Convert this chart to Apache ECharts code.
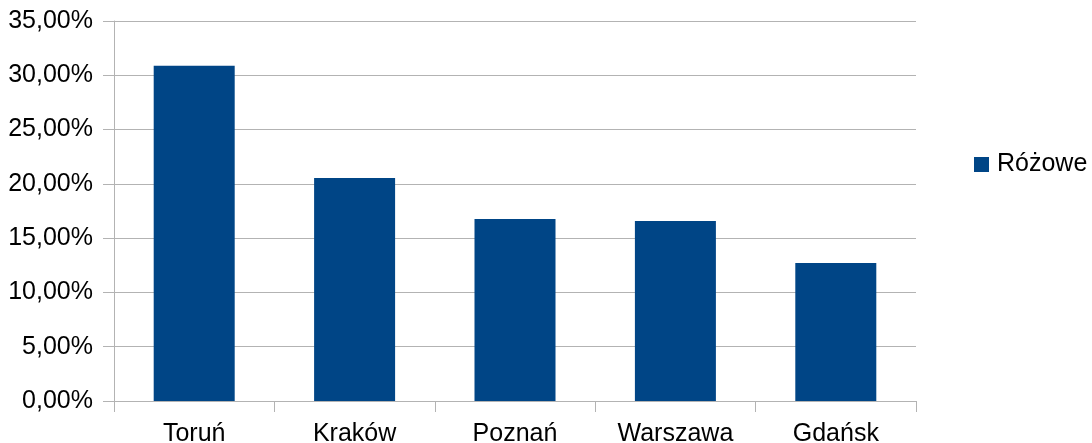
<!DOCTYPE html>
<html>
<head>
    <meta charset="utf-8"/>
    <title>Różowe</title>
    <style>
        html, body { margin: 0; padding: 0; background: #fff; }
        #chart { width: 1092px; height: 443px; }
    </style>
</head>
<body>
<div id="chart"></div>
<script src="https://cdn.jsdelivr.net/npm/echarts@6/dist/echarts.min.js"></script>
<script>
    // dane
    var cities = ['Toruń', 'Kraków', 'Poznań', 'Warszawa', 'Gdańsk'];
    var rozowe = [30.88, 20.54, 16.76, 16.58, 12.71];
    var seriesName = 'Różowe';

    var gridColor = '#b3b3b3';
    var barColor = '#004586';
    var fontSize = 25;

    var chart = echarts.init(document.getElementById('chart'));
    var option = {
        animation: false,
        textStyle: { fontFamily: 'Liberation Sans' },
        grid: { left: 114, right: 176, top: 21, bottom: 42, containLabel: false, outerBoundsMode: 'none' },
        legend: {
            data: [seriesName],
            orient: 'vertical',
            left: 974,
            top: 152,
            padding: 0,
            itemWidth: 15,
            itemHeight: 15,
            itemGap: 6,
            icon: 'rect',
            textStyle: { fontSize: fontSize, color: '#000', fontFamily: 'Liberation Sans', padding: [0, 0, 0, 3] }
        },
        xAxis: {
            type: 'category',
            data: cities,
            axisLine: { lineStyle: { color: gridColor, width: 1 } },
            axisTick: { show: true, length: 11, lineStyle: { color: gridColor } },
            axisLabel: { fontSize: fontSize, color: '#000', margin: 21 }
        },
        yAxis: {
            type: 'value',
            min: 0,
            max: 35,
            interval: 5,
            axisLine: { show: true, lineStyle: { color: gridColor, width: 1 } },
            axisTick: { show: true, length: 11, lineStyle: { color: gridColor } },
            splitLine: { lineStyle: { color: gridColor, width: 1 } },
            axisLabel: {
                fontSize: fontSize,
                color: '#000',
                margin: 21,
                formatter: function (v) {
                    return v.toFixed(2).replace('.', ',') + '%';
                }
            }
        },
        series: [{
            name: seriesName,
            type: 'bar',
            data: rozowe,
            barWidth: '50.5%',
            itemStyle: { color: barColor }
        }]
    };
    chart.setOption(option);
</script>
</body>
</html>
